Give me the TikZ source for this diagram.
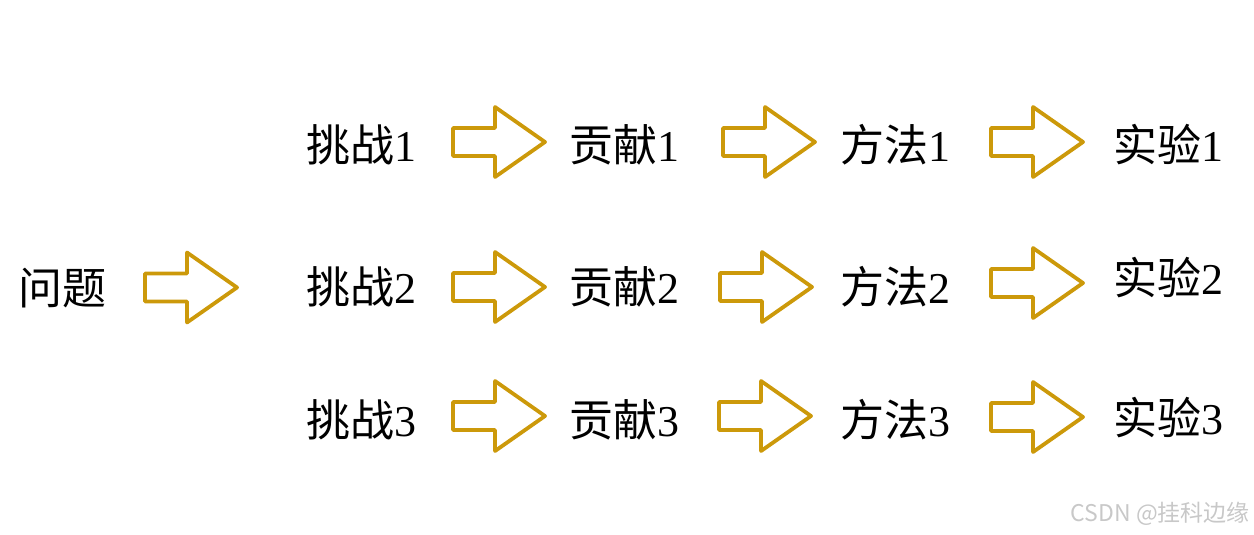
\documentclass[tikz,border=0pt]{standalone}
\usepackage{fontspec}
\setmainfont{Liberation Serif}
\newfontfamily\cjk{Noto Sans CJK SC}
\definecolor{gold}{RGB}{204,153,10}
\definecolor{wm}{RGB}{200,200,200}
\tikzset{
  lbl/.style={anchor=west, inner sep=0pt, font=\fontsize{44}{50}\selectfont},
  bigarrow/.pic={\draw[gold, line width=3.8pt, line join=round] (0,-14) -- (42,-14) -- (42,-35) -- (92,0) -- (42,35) -- (42,14) -- (0,14) -- cycle;}
}
\begin{document}
\begin{tikzpicture}[x=1pt,y=-1pt]
\useasboundingbox (0,0) rectangle (1254,535);
% left
\node[lbl] (q) at (18,288) {\cjk 问题};
\pic at (145,287.5) {bigarrow};
% row 1
\node[lbl] (c1) at (306,145) {{\cjk 挑战}1};
\pic at (453,142) {bigarrow};
\node[lbl] (g1) at (569,145) {{\cjk 贡献}1};
\pic at (723,142) {bigarrow};
\node[lbl] (m1) at (840,145) {{\cjk 方法}1};
\pic at (991,142) {bigarrow};
\node[lbl] (e1) at (1113,145) {{\cjk 实验}1};
% row 2
\node[lbl] (c2) at (306,287) {{\cjk 挑战}2};
\pic at (453,287) {bigarrow};
\node[lbl] (g2) at (569,287) {{\cjk 贡献}2};
\pic at (720,287) {bigarrow};
\node[lbl] (m2) at (840,287) {{\cjk 方法}2};
\pic at (991,283) {bigarrow};
\node[lbl] (e2) at (1113,278) {{\cjk 实验}2};
% row 3
\node[lbl] (c3) at (306,420) {{\cjk 挑战}3};
\pic at (453,416) {bigarrow};
\node[lbl] (g3) at (569,420) {{\cjk 贡献}3};
\pic at (719,416) {bigarrow};
\node[lbl] (m3) at (840,420) {{\cjk 方法}3};
\pic at (991,417) {bigarrow};
\node[lbl] (e3) at (1113,418) {{\cjk 实验}3};
% watermark
\node[anchor=east, inner sep=0pt, text=wm, font=\cjk\fontsize{23}{26}\selectfont] (wm) at (1250,514) {CSDN @挂科边缘};
\end{tikzpicture}
\end{document}
